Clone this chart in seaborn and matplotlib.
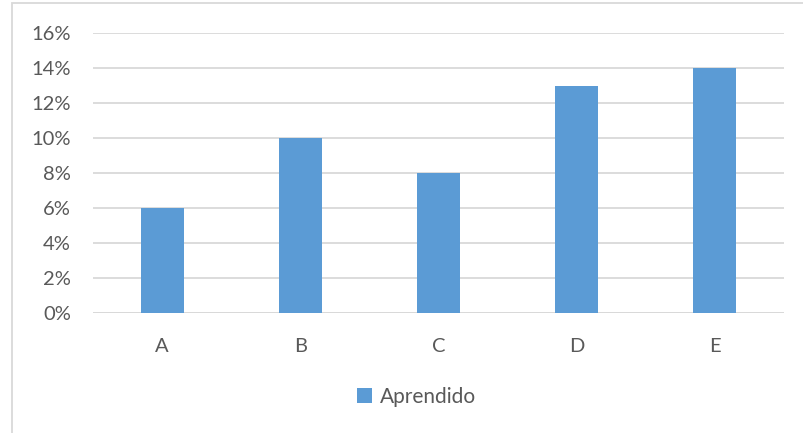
import matplotlib
matplotlib.use("Agg")
import matplotlib.pyplot as plt
import seaborn as sns
import pandas as pd
from matplotlib.patches import Rectangle, Patch
from matplotlib.ticker import FuncFormatter, MultipleLocator

categories = ["A", "B", "C", "D", "E"]
values = [0.06, 0.10, 0.08, 0.13, 0.14]
series_name = "Aprendido"

bar_color = "#5B9BD5"
grid_color = "#D9D9D9"
text_color = "#595959"

sns.set_theme(style="white")
plt.rcParams["font.family"] = ["Lato", "DejaVu Sans"]

df = pd.DataFrame({"cat": categories, "val": values})

fig = plt.figure(figsize=(8.04, 4.33), dpi=100)
W, H = 804, 433
ax = fig.add_axes([93 / W, 1 - 313 / H, (784 - 93) / W, (313 - 33) / H])

sns.barplot(data=df, x="cat", y="val", color=bar_color, saturation=1,
            width=0.31, linewidth=0, ax=ax, zorder=3)

ax.set_ylim(0, 0.16)
ax.set_xlim(-0.5, 4.5)
ax.yaxis.set_major_locator(MultipleLocator(0.02))
ax.yaxis.set_major_formatter(FuncFormatter(lambda v, _: f"{v*100:.0f}%"))
ax.grid(axis="y", color=grid_color, linewidth=1.3, zorder=0)
ax.grid(axis="x", visible=False)
ax.set_axisbelow(True)
for s in ax.spines.values():
    s.set_visible(False)
ax.axhline(0, color=grid_color, linewidth=1.3, zorder=1)
ax.set_xlabel("")
ax.set_ylabel("")
ax.tick_params(axis="y", length=0, pad=16, labelsize=14.5, labelcolor=text_color)
ax.tick_params(axis="x", length=0, pad=18, labelsize=14.5, labelcolor=text_color)

# chart area outline
fig.patches.append(Rectangle((12 / W, -0.05), 1.2, 1 - 3 / H + 0.05,
                             transform=fig.transFigure, fill=False,
                             edgecolor=grid_color, linewidth=1.3))

fig.legend(handles=[Patch(facecolor=bar_color, edgecolor="none", label=series_name)],
           loc="center", bbox_to_anchor=(417 / W, 1 - 397 / H), frameon=False,
           fontsize=15, labelcolor=text_color, handlelength=0.7, handleheight=0.7,
           handletextpad=0.4)

fig.savefig("out.png", dpi=100)
